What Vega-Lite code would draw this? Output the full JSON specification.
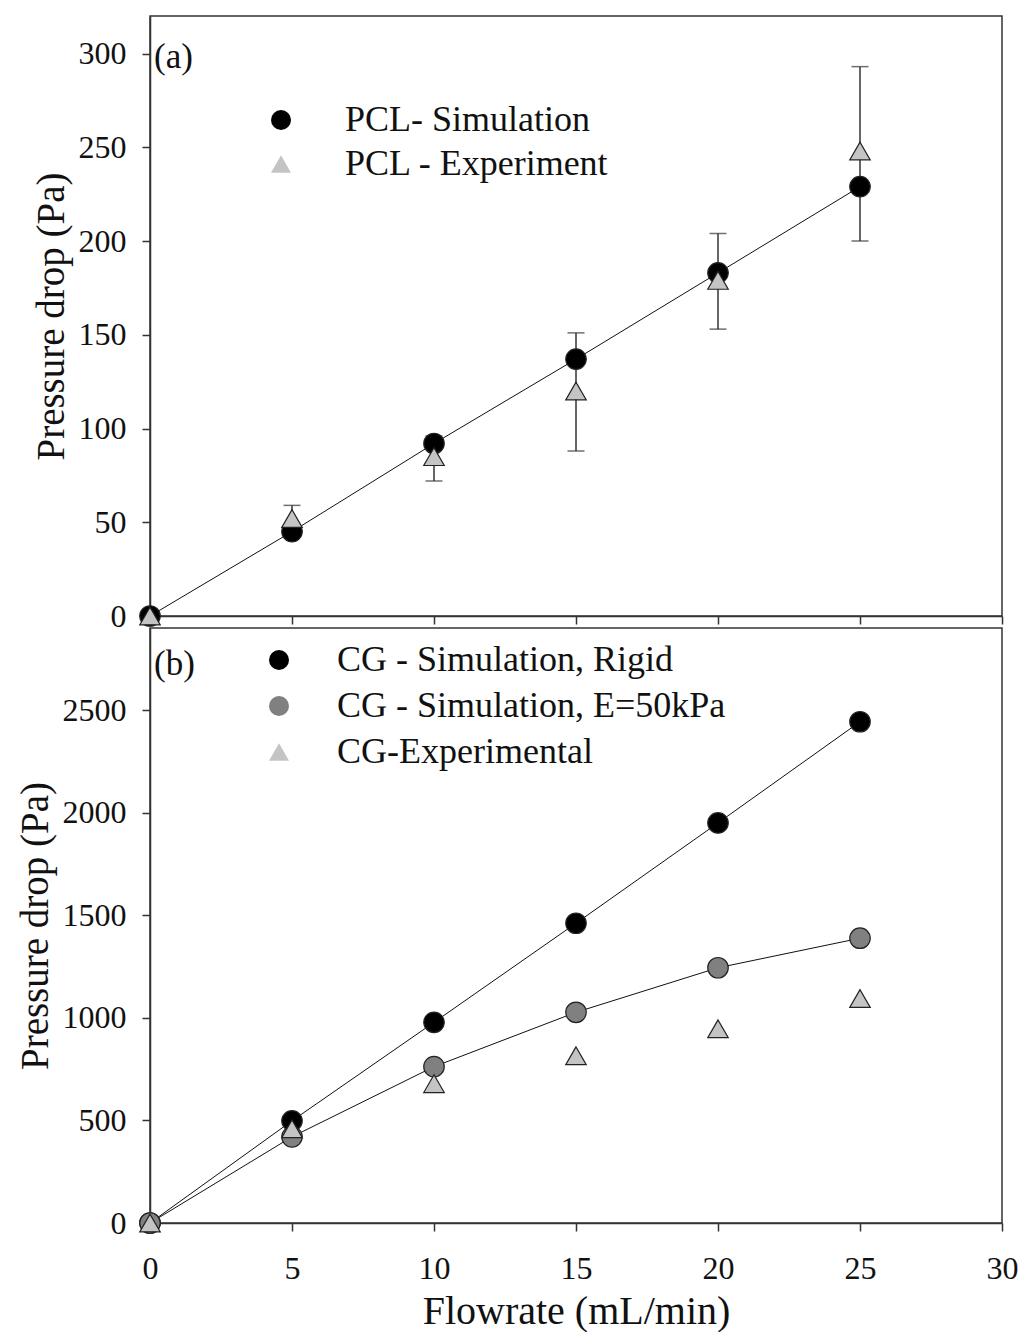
{
  "$schema": "https://vega.github.io/schema/vega-lite/v6.json",
  "background": "white",
  "padding": {"left": 15, "top": 15, "right": 5, "bottom": 0},
  "bounds": "flush",
  "spacing": 12,
  "resolve": {
    "scale": {"shape": "independent", "fill": "independent", "x": "independent", "y": "independent"},
    "legend": {"shape": "independent", "fill": "independent"}
  },
  "config": {
    "font": "Liberation Serif",
    "view": {"stroke": "#333", "strokeWidth": 1.5},
    "axis": {
      "grid": false,
      "domainColor": "#333",
      "domainWidth": 1.5,
      "tickColor": "#333",
      "tickWidth": 1.5,
      "tickSize": 8,
      "labelFont": "Liberation Serif",
      "labelFontSize": 32,
      "labelColor": "#111",
      "titleFont": "Liberation Serif",
      "titleFontSize": 39,
      "titleFontWeight": "normal",
      "titleColor": "#111",
      "labelFlush": false,
      "labelOverlap": false,
      "format": "d"
    },
    "axisY": {"labelPadding": 16, "titlePadding": 7},
    "axisX": {"labelPadding": 22, "titlePadding": 7, "titleFontSize": 40},
    "legend": {
      "labelFont": "Liberation Serif",
      "labelFontSize": 36,
      "labelColor": "#111",
      "labelLimit": 800,
      "symbolSize": 400,
      "symbolStrokeColor": "#222",
      "symbolStrokeWidth": 1.2,
      "padding": 0,
      "orient": "none"
    }
  },
  "datasets": {
    "pcl": [
      {"flow": 0, "p": 0, "series": "PCL- Simulation"},
      {"flow": 5, "p": 45, "series": "PCL- Simulation"},
      {"flow": 10, "p": 92, "series": "PCL- Simulation"},
      {"flow": 15, "p": 137, "series": "PCL- Simulation"},
      {"flow": 20, "p": 183, "series": "PCL- Simulation"},
      {"flow": 25, "p": 229, "series": "PCL- Simulation"},
      {"flow": 0, "p": 0, "series": "PCL - Experiment"},
      {"flow": 5, "p": 52, "series": "PCL - Experiment"},
      {"flow": 10, "p": 85, "series": "PCL - Experiment"},
      {"flow": 15, "p": 120, "series": "PCL - Experiment"},
      {"flow": 20, "p": 179, "series": "PCL - Experiment"},
      {"flow": 25, "p": 248, "series": "PCL - Experiment"}
    ],
    "pclErr": [
      {"flow": 5, "low": 45, "high": 59},
      {"flow": 10, "low": 72, "high": 96},
      {"flow": 15, "low": 88, "high": 151},
      {"flow": 20, "low": 153, "high": 204},
      {"flow": 25, "low": 200, "high": 293}
    ],
    "cg": [
      {"flow": 0, "p": 0, "series": "CG - Simulation, Rigid"},
      {"flow": 5, "p": 498, "series": "CG - Simulation, Rigid"},
      {"flow": 10, "p": 978, "series": "CG - Simulation, Rigid"},
      {"flow": 15, "p": 1461, "series": "CG - Simulation, Rigid"},
      {"flow": 20, "p": 1950, "series": "CG - Simulation, Rigid"},
      {"flow": 25, "p": 2443, "series": "CG - Simulation, Rigid"},
      {"flow": 0, "p": 0, "series": "CG - Simulation, E=50kPa"},
      {"flow": 5, "p": 420, "series": "CG - Simulation, E=50kPa"},
      {"flow": 10, "p": 762, "series": "CG - Simulation, E=50kPa"},
      {"flow": 15, "p": 1027, "series": "CG - Simulation, E=50kPa"},
      {"flow": 20, "p": 1244, "series": "CG - Simulation, E=50kPa"},
      {"flow": 25, "p": 1388, "series": "CG - Simulation, E=50kPa"},
      {"flow": 0, "p": 0, "series": "CG-Experimental"},
      {"flow": 5, "p": 459, "series": "CG-Experimental"},
      {"flow": 10, "p": 679, "series": "CG-Experimental"},
      {"flow": 15, "p": 815, "series": "CG-Experimental"},
      {"flow": 20, "p": 947, "series": "CG-Experimental"},
      {"flow": 25, "p": 1094, "series": "CG-Experimental"}
    ]
  },
  "vconcat": [
    {
      "width": 852,
      "height": 600,
      "layer": [
        {
          "data": {"name": "pclErr"},
          "mark": {"type": "rule", "color": "#333", "strokeWidth": 1.5},
          "encoding": {
            "x": {"field": "flow", "type": "quantitative", "title": null, "scale": {"domain": [0, 30], "nice": false}, "axis": {"values": [0, 5, 10, 15, 20, 25, 30], "labels": false}},
            "y": {"field": "low", "type": "quantitative", "title": "Pressure drop (Pa)", "scale": {"domain": [0, 320], "nice": false}, "axis": {"values": [0, 50, 100, 150, 200, 250, 300]}},
            "y2": {"field": "high"}
          }
        },
        {
          "data": {"name": "pclErr"},
          "mark": {"type": "tick", "orient": "horizontal", "size": 17, "thickness": 1.5, "color": "#333"},
          "encoding": {
            "x": {"field": "flow", "type": "quantitative", "title": null},
            "y": {"field": "low", "type": "quantitative", "title": "Pressure drop (Pa)"}
          }
        },
        {
          "data": {"name": "pclErr"},
          "mark": {"type": "tick", "orient": "horizontal", "size": 17, "thickness": 1.5, "color": "#333"},
          "encoding": {
            "x": {"field": "flow", "type": "quantitative", "title": null},
            "y": {"field": "high", "type": "quantitative", "title": "Pressure drop (Pa)"}
          }
        },
        {
          "data": {"name": "pcl"},
          "transform": [{"filter": "datum.series === 'PCL- Simulation'"}],
          "mark": {"type": "line", "color": "#111", "strokeWidth": 1},
          "encoding": {
            "x": {"field": "flow", "type": "quantitative", "title": null},
            "y": {"field": "p", "type": "quantitative", "title": "Pressure drop (Pa)"}
          }
        },
        {
          "data": {"name": "pcl"},
          "mark": {"type": "point", "filled": true, "size": 420, "stroke": "#222", "strokeWidth": 1.2, "opacity": 1},
          "encoding": {
            "x": {"field": "flow", "type": "quantitative", "title": null},
            "y": {"field": "p", "type": "quantitative", "title": "Pressure drop (Pa)"},
            "shape": {
              "field": "series", "type": "nominal", "title": null,
              "scale": {"domain": ["PCL- Simulation", "PCL - Experiment"], "range": ["circle", "triangle-up"]},
              "legend": {"legendX": 113, "legendY": 86, "labelOffset": 46, "rowPadding": 8,
                "encode": {"symbols": {"update": {"stroke": {"value": "#222"}, "strokeWidth": {"value": 1.2}}}}}
            },
            "fill": {
              "field": "series", "type": "nominal", "title": null,
              "scale": {"domain": ["PCL- Simulation", "PCL - Experiment"], "range": ["#000000", "#c4c4c4"]},
              "legend": {"legendX": 113, "legendY": 86, "labelOffset": 46, "rowPadding": 8,
                "encode": {"symbols": {"update": {"stroke": {"value": "#222"}, "strokeWidth": {"value": 1.2}}}}}
            }
          }
        },
        {
          "data": {"values": [{"flow": 0, "p": 298, "tag": "(a)"}]},
          "mark": {"type": "text", "align": "left", "baseline": "middle", "dx": 4, "fontSize": 35, "font": "Liberation Serif", "color": "#111"},
          "encoding": {
            "x": {"field": "flow", "type": "quantitative", "title": null},
            "y": {"field": "p", "type": "quantitative", "title": "Pressure drop (Pa)"},
            "text": {"field": "tag"}
          }
        }
      ]
    },
    {
      "width": 852,
      "height": 595,
      "layer": [
        {
          "data": {"name": "cg"},
          "transform": [{"filter": "datum.series !== 'CG-Experimental'"}],
          "mark": {"type": "line", "color": "#111", "strokeWidth": 1},
          "encoding": {
            "x": {"field": "flow", "type": "quantitative", "title": "Flowrate (mL/min)", "scale": {"domain": [0, 30], "nice": false}, "axis": {"values": [0, 5, 10, 15, 20, 25, 30]}},
            "y": {"field": "p", "type": "quantitative", "title": "Pressure drop (Pa)", "scale": {"domain": [0, 2900], "nice": false}, "axis": {"values": [0, 500, 1000, 1500, 2000, 2500]}},
            "detail": {"field": "series"}
          }
        },
        {
          "data": {"name": "cg"},
          "mark": {"type": "point", "filled": true, "size": 420, "stroke": "#222", "strokeWidth": 1.2, "opacity": 1},
          "encoding": {
            "x": {"field": "flow", "type": "quantitative", "title": "Flowrate (mL/min)"},
            "y": {"field": "p", "type": "quantitative", "title": "Pressure drop (Pa)"},
            "shape": {
              "field": "series", "type": "nominal", "title": null,
              "scale": {"domain": ["CG - Simulation, Rigid", "CG - Simulation, E=50kPa", "CG-Experimental"], "range": ["circle", "circle", "triangle-up"]},
              "legend": {"legendX": 111, "legendY": 14, "labelOffset": 40, "rowPadding": 10,
                "encode": {"symbols": {"update": {"stroke": {"value": "#222"}, "strokeWidth": {"value": 1.2}}}}}
            },
            "fill": {
              "field": "series", "type": "nominal", "title": null,
              "scale": {"domain": ["CG - Simulation, Rigid", "CG - Simulation, E=50kPa", "CG-Experimental"], "range": ["#000000", "#808080", "#c4c4c4"]},
              "legend": {"legendX": 111, "legendY": 14, "labelOffset": 40, "rowPadding": 10,
                "encode": {"symbols": {"update": {"stroke": {"value": "#222"}, "strokeWidth": {"value": 1.2}}}}}
            }
          }
        },
        {
          "data": {"values": [{"flow": 0, "p": 2725, "tag": "(b)"}]},
          "mark": {"type": "text", "align": "left", "baseline": "middle", "dx": 4, "fontSize": 35, "font": "Liberation Serif", "color": "#111"},
          "encoding": {
            "x": {"field": "flow", "type": "quantitative", "title": "Flowrate (mL/min)"},
            "y": {"field": "p", "type": "quantitative", "title": "Pressure drop (Pa)"},
            "text": {"field": "tag"}
          }
        }
      ]
    }
  ]
}
